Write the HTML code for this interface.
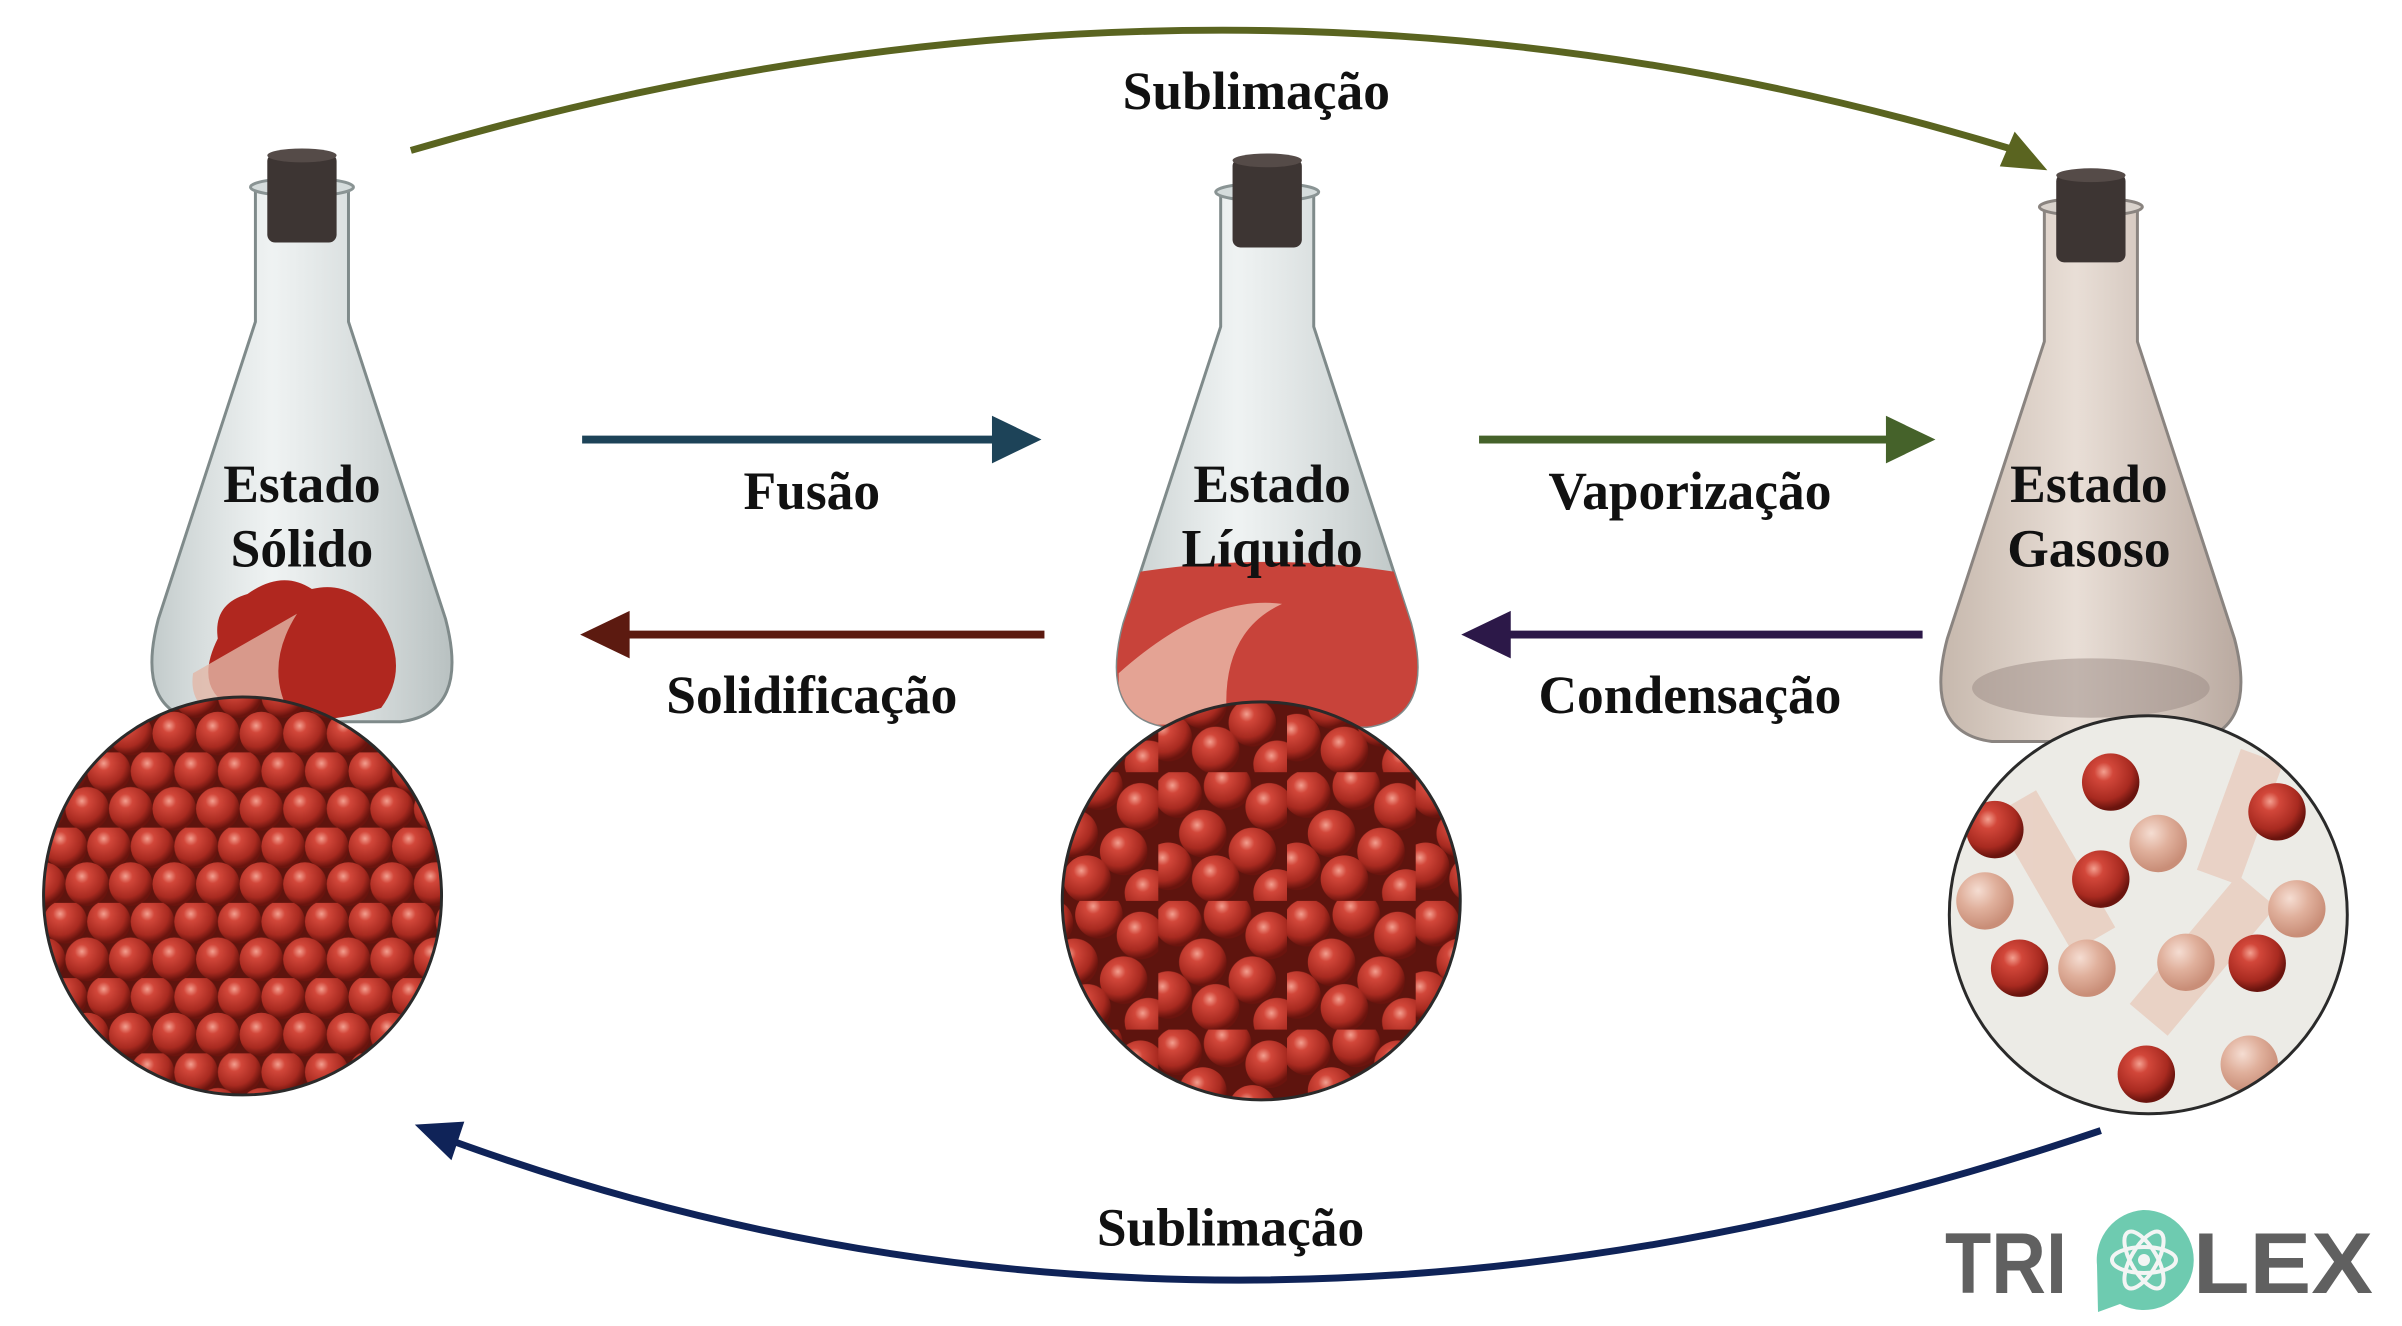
<!DOCTYPE html>
<html><head><meta charset="utf-8">
<style>
html,body{margin:0;padding:0;background:#fff;}
svg{display:block;}
text{font-family:"Liberation Serif",serif;font-weight:bold;fill:#111;}
</style></head>
<body>
<svg width="2402" height="1326" viewBox="0 0 2402 1326" xmlns="http://www.w3.org/2000/svg">
<defs>
  <radialGradient id="sph" cx="38%" cy="32%" r="65%">
    <stop offset="0" stop-color="#f3a090"/>
    <stop offset="0.25" stop-color="#d2473a"/>
    <stop offset="0.75" stop-color="#a82a20"/>
    <stop offset="1" stop-color="#6a140e"/>
  </radialGradient>
  <radialGradient id="sphL" cx="38%" cy="32%" r="65%">
    <stop offset="0" stop-color="#f5ddd2"/>
    <stop offset="0.5" stop-color="#e0b09c"/>
    <stop offset="1" stop-color="#c98e78"/>
  </radialGradient>
  <linearGradient id="glass" x1="0" x2="1">
    <stop offset="0" stop-color="#a8b4b4" stop-opacity="0.7"/>
    <stop offset="0.4" stop-color="#dfe6e6" stop-opacity="0.5"/>
    <stop offset="1" stop-color="#9aa6a6" stop-opacity="0.7"/>
  </linearGradient>
  <linearGradient id="gasg" x1="0" x2="1">
    <stop offset="0" stop-color="#b8a698"/>
    <stop offset="0.45" stop-color="#e3d6cc"/>
    <stop offset="1" stop-color="#a89488"/>
  </linearGradient>
  <pattern id="solidP" width="44" height="76" patternUnits="userSpaceOnUse">
    <rect width="44" height="76" fill="#5e140e"/>
    <circle cx="22" cy="19" r="22" fill="url(#sph)"/>
    <circle cx="0" cy="57" r="22" fill="url(#sph)"/>
    <circle cx="44" cy="57" r="22" fill="url(#sph)"/>
    <circle cx="0" cy="-19" r="22" fill="url(#sph)"/>
    <circle cx="44" cy="-19" r="22" fill="url(#sph)"/>
  </pattern>
  <pattern id="liqP" width="130" height="130" patternUnits="userSpaceOnUse">
    <rect width="130" height="130" fill="#5e140e"/>
    <circle cx="20" cy="22" r="24" fill="url(#sph)"/>
    <circle cx="70" cy="14" r="24" fill="url(#sph)"/>
    <circle cx="112" cy="35" r="24" fill="url(#sph)"/>
    <circle cx="45" cy="62" r="24" fill="url(#sph)"/>
    <circle cx="95" cy="80" r="24" fill="url(#sph)"/>
    <circle cx="10" cy="95" r="24" fill="url(#sph)"/>
    <circle cx="58" cy="108" r="24" fill="url(#sph)"/>
    <circle cx="120" cy="122" r="24" fill="url(#sph)"/>
  </pattern>
  <clipPath id="cS"><circle cx="245" cy="905" r="201"/></clipPath>
  <clipPath id="cL"><circle cx="1274" cy="910" r="201"/></clipPath>
  <clipPath id="cG"><circle cx="2170" cy="924" r="201"/></clipPath>
  <path id="flask" d="M -47 32 L -47 170 L -145 470 Q -170 565 -100 574 L 100 574 Q 170 565 145 470 L 47 170 L 47 32 Z"/>
  <clipPath id="flaskClip"><use href="#flask"/></clipPath>
</defs>
<g transform="scale(0.99)">
<!-- top arc -->
<path d="M 415 152 Q 1240 -90 2030 150" fill="none" stroke="#5a6420" stroke-width="7"/>
<polygon points="2068,172 2020,168 2035,133" fill="#5a6420"/>
<text x="1269" y="110" font-size="54" text-anchor="middle">Sublimação</text>

<!-- bottom arc -->
<path d="M 2122 1142 Q 1240 1440 450 1150" fill="none" stroke="#0f2358" stroke-width="7"/>
<polygon points="419,1136 469,1133 456,1172" fill="#0f2358"/>
<text x="1243" y="1258" font-size="54" text-anchor="middle">Sublimação</text>

<!-- Flasks -->
<g transform="translate(305,155)">
  <use href="#flask" fill="url(#glass)" stroke="#7f8a8a" stroke-width="3"/>
  <ellipse cx="0" cy="34" rx="52" ry="9" fill="#d5dcdc" stroke="#8a9494" stroke-width="3"/>
  <rect x="-35" y="0" width="70" height="90" rx="8" fill="#3d3533"/>
  <ellipse cx="0" cy="2" rx="35" ry="7" fill="#554b48"/>
  <path d="M -85 490 Q -90 455 -55 445 Q -20 420 10 440 Q 50 430 80 470 Q 110 520 80 560 Q 0 585 -70 560 Q -110 540 -85 490 Z" fill="#b0271f"/>
  <path d="M -110 525 L -5 465 Q -40 520 -10 570 L -80 570 Q -115 560 -110 525 Z" fill="#e2b6a6" opacity="0.8"/>
</g>
<g transform="translate(1280,160)">
  <use href="#flask" fill="url(#glass)" stroke="#7f8a8a" stroke-width="3"/>
  <g clip-path="url(#flaskClip)">
    <path d="M -170 425 Q 0 390 170 425 L 170 600 L -170 600 Z" fill="#c8433a"/>
    <path d="M -150 520 Q -60 440 15 450 Q -50 480 -40 572 L -150 572 Z" fill="#e9b4a4" opacity="0.85"/>
  </g>
  <ellipse cx="0" cy="34" rx="52" ry="9" fill="#d5dcdc" stroke="#8a9494" stroke-width="3"/>
  <rect x="-35" y="0" width="70" height="90" rx="8" fill="#3d3533"/>
  <ellipse cx="0" cy="2" rx="35" ry="7" fill="#554b48"/>
</g>
<g transform="translate(2112,175)">
  <use href="#flask" fill="url(#gasg)" fill-opacity="0.8" stroke="#8a8480" stroke-width="3"/>
  <ellipse cx="0" cy="34" rx="52" ry="9" fill="#d9d2cc" stroke="#8a8480" stroke-width="3"/>
  <rect x="-35" y="0" width="70" height="90" rx="8" fill="#3d3533"/>
  <ellipse cx="0" cy="2" rx="35" ry="7" fill="#554b48"/>
  <ellipse cx="0" cy="520" rx="120" ry="30" fill="#9a8a84" opacity="0.5"/>
</g>

<!-- flask labels -->
<text x="305" y="507" font-size="54" text-anchor="middle">Estado</text>
<text x="305" y="572" font-size="54" text-anchor="middle">Sólido</text>
<text x="1285" y="507" font-size="54" text-anchor="middle">Estado</text>
<text x="1285" y="572" font-size="54" text-anchor="middle">Líquido</text>
<text x="2110" y="507" font-size="54" text-anchor="middle">Estado</text>
<text x="2110" y="572" font-size="54" text-anchor="middle">Gasoso</text>

<!-- Circles -->
<g clip-path="url(#cS)"><rect x="40" y="700" width="410" height="410" fill="url(#solidP)"/></g>
<circle cx="245" cy="905" r="201" fill="none" stroke="#2a2a2a" stroke-width="3"/>
<g clip-path="url(#cL)"><rect x="1070" y="705" width="410" height="410" fill="url(#liqP)"/></g>
<circle cx="1274" cy="910" r="201" fill="none" stroke="#2a2a2a" stroke-width="3"/>
<g clip-path="url(#cG)">
  <rect x="1965" y="720" width="410" height="410" fill="#ecebe6"/>
  <g fill="#e8c8b8" opacity="0.7">
    <rect x="2050" y="800" width="50" height="160" transform="rotate(-30 2075 880)"/>
    <rect x="2200" y="880" width="50" height="170" transform="rotate(40 2225 965)"/>
    <rect x="2240" y="760" width="45" height="130" transform="rotate(20 2262 825)"/>
  </g>
  <circle cx="2132" cy="790" r="29" fill="url(#sph)"/>
  <circle cx="2300" cy="820" r="29" fill="url(#sph)"/>
  <circle cx="2015" cy="838" r="29" fill="url(#sph)"/>
  <circle cx="2180" cy="852" r="29" fill="url(#sphL)"/>
  <circle cx="2122" cy="888" r="29" fill="url(#sph)"/>
  <circle cx="2005" cy="910" r="29" fill="url(#sphL)"/>
  <circle cx="2320" cy="918" r="29" fill="url(#sphL)"/>
  <circle cx="2040" cy="978" r="29" fill="url(#sph)"/>
  <circle cx="2108" cy="978" r="29" fill="url(#sphL)"/>
  <circle cx="2208" cy="972" r="29" fill="url(#sphL)"/>
  <circle cx="2280" cy="973" r="29" fill="url(#sph)"/>
  <circle cx="2168" cy="1085" r="29" fill="url(#sph)"/>
  <circle cx="2272" cy="1075" r="29" fill="url(#sphL)"/>
</g>
<circle cx="2170" cy="924" r="201" fill="none" stroke="#2a2a2a" stroke-width="3"/>

<!-- horizontal arrows -->
<line x1="588" y1="444" x2="1015" y2="444" stroke="#1d4358" stroke-width="8"/>
<polygon points="1052,444 1002,420 1002,468" fill="#1d4358"/>
<text x="820" y="514" font-size="54" text-anchor="middle">Fusão</text>

<line x1="1494" y1="444" x2="1918" y2="444" stroke="#45622a" stroke-width="8"/>
<polygon points="1955,444 1905,420 1905,468" fill="#45622a"/>
<text x="1707" y="514" font-size="54" text-anchor="middle">Vaporização</text>

<line x1="1055" y1="641" x2="625" y2="641" stroke="#5c1a10" stroke-width="8"/>
<polygon points="586,641 636,617 636,665" fill="#5c1a10"/>
<text x="820" y="720" font-size="54" text-anchor="middle">Solidificação</text>

<line x1="1942" y1="641" x2="1515" y2="641" stroke="#2c1848" stroke-width="8"/>
<polygon points="1476,641 1526,617 1526,665" fill="#2c1848"/>
<text x="1707" y="720" font-size="54" text-anchor="middle">Condensação</text>
</g>

<!-- logo -->
<g>
  <text x="1945" y="1293" font-size="86" style="font-family:'Liberation Sans',sans-serif;font-weight:bold;fill:#606060" textLength="122" lengthAdjust="spacingAndGlyphs">TRI</text>
  <path d="M 2143 1210 A 50 50 0 1 1 2120 1304 L 2098 1312 L 2097 1265 A 50 50 0 0 1 2143 1210 Z" fill="#6ecbb0"/>
  <g fill="none" stroke="#f3f5f4" stroke-width="4">
    <ellipse cx="2144" cy="1260" rx="32" ry="13"/>
    <ellipse cx="2144" cy="1260" rx="32" ry="13" transform="rotate(60 2144 1260)"/>
    <ellipse cx="2144" cy="1260" rx="32" ry="13" transform="rotate(-60 2144 1260)"/>
  </g>
  <circle cx="2144" cy="1260" r="6" fill="#f3f5f4"/>
  <text x="2193" y="1293" font-size="86" style="font-family:'Liberation Sans',sans-serif;font-weight:bold;fill:#606060" textLength="180" lengthAdjust="spacingAndGlyphs">LEX</text>
</g>
</svg>
</body></html>
